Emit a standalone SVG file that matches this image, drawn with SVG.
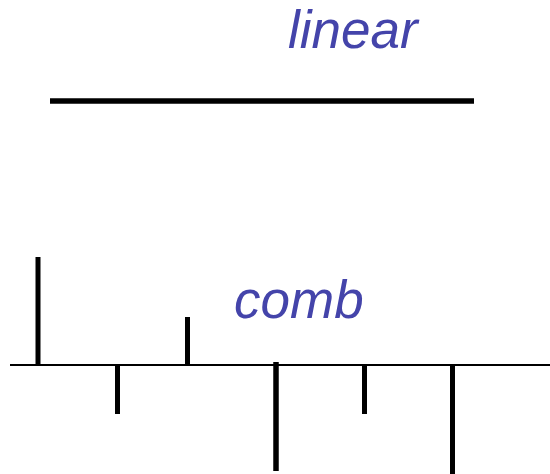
<svg xmlns="http://www.w3.org/2000/svg" width="550" height="474" viewBox="0 0 550 474">
  <style>
    .label { font-family: "Liberation Sans", Arial, sans-serif; font-style: italic; font-size: 53px; fill: #4444AA; }
    .axis { stroke: #000; stroke-width: 2; }
    .spike { stroke: #000; stroke-width: 5; }
  </style>
  <rect width="550" height="474" fill="#fff"/>
  <g id="linear">
    <text class="label" x="288" y="48">linear</text>
    <line x1="50" y1="101" x2="474" y2="101" stroke="#000" stroke-width="5.5"/>
  </g>
  <g id="comb">
    <text class="label" x="234" y="318">comb</text>
    <line class="axis" x1="10" y1="365" x2="550" y2="365"/>
    <line class="spike" x1="38" y1="257" x2="38" y2="365"/>
    <line class="spike" x1="117.5" y1="365" x2="117.5" y2="414"/>
    <line class="spike" x1="187.5" y1="317" x2="187.5" y2="365"/>
    <line class="spike" x1="276" y1="362" x2="276" y2="471" style="stroke-width:5.5"/>
    <line class="spike" x1="364.5" y1="365" x2="364.5" y2="414"/>
    <line class="spike" x1="452.5" y1="365" x2="452.5" y2="474"/>
  </g>
</svg>
